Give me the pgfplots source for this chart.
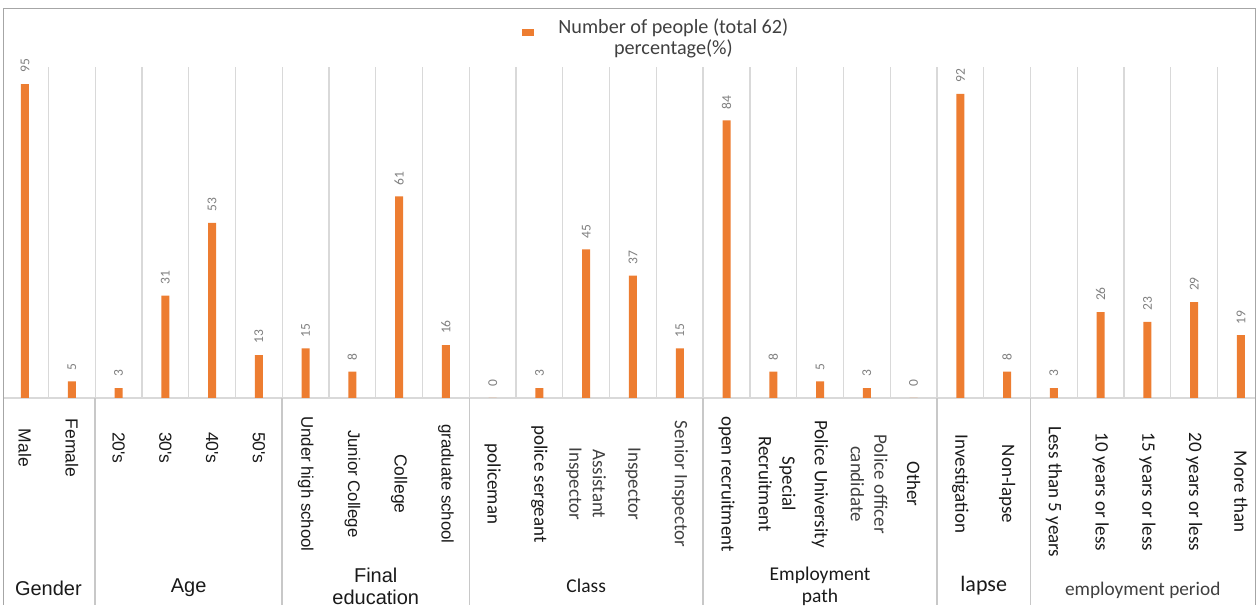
\documentclass[border=0pt]{standalone}
\usepackage{pgfplots}
\pgfplotsset{compat=1.18}
\usepackage{pgfplotstable}
\usepackage{fontspec}
\setmainfont{Carlito}
\newfontfamily\arial{Liberation Sans}
\definecolor{barorange}{HTML}{ED7D31}
\definecolor{gridgray}{HTML}{D9D9D9}
\definecolor{sepgray}{HTML}{C8C8C8}
\definecolor{framegray}{HTML}{A6A6A6}
\definecolor{valgray}{HTML}{7F7F7F}
\definecolor{txtA}{HTML}{1A1A1A}
\definecolor{txtB}{HTML}{404040}
\newcommand\catA{\arial\fontsize{17.5}{21}\selectfont}
\newcommand\catE{\arial\fontsize{16.8}{21}\selectfont}
\newcommand\catB{\fontsize{19}{23.5}\selectfont}
\newcommand\grpA{\arial\fontsize{20}{22}\selectfont}

\pgfplotstableread{
x y
0 95
1 5
2 3
3 31
4 53
5 13
6 15
7 8
8 61
9 16
10 0
11 3
12 45
13 37
14 15
15 84
16 8
17 5
18 3
19 0
20 92
21 8
22 3
23 26
24 23
25 29
26 19
}\datatable

\begin{document}
\begin{tikzpicture}
\begin{axis}[
  scale only axis, width=1251pt, height=596pt,
  xmin=-0.449, xmax=26.3, ymin=-62.63, ymax=117.70,
  hide axis, clip=false,
  /pgf/number format/assume math mode=true,
  ybar, bar width=8pt,
  nodes near coords,
  nodes near coords align={horizontal},
  every node near coord/.append style={font=\fontsize{13.5}{14}\selectfont, text=valgray, rotate=90, anchor=west, inner xsep=11pt, inner ysep=0pt},
  legend style={at={(rel axis cs:0.5215,0.99)}, anchor=north, draw=none, fill=none,
    font=\fontsize{20.2}{21}\selectfont, text=txtB, cells={align=center},
    /tikz/every odd column/.append style={column sep=22pt}},
  legend image code/.code={\fill[barorange] (0pt,2pt) rectangle (12pt,9pt);},
]
% gridlines
\pgfplotsinvokeforeach{0,...,25}{
  \draw[gridgray, line width=1.3pt] (axis cs:{#1+0.5},0) -- (axis cs:{#1+0.5},100);
}
\draw[gridgray, line width=1.5pt] (axis cs:-0.449,0) -- (axis cs:26.3,0);
\pgfplotsinvokeforeach{1.5,5.5,9.5,14.5,19.5,21.5}{
  \draw[sepgray, line width=1.6pt] (axis cs:#1,0) -- (axis cs:#1,-62.63);
}
\draw[framegray, line width=1pt] (rel axis cs:0,0) -- (rel axis cs:0,1) -- (rel axis cs:1,1) -- (rel axis cs:1,0);

\addplot[fill=barorange, draw=none] table[x=x, y=y] {\datatable};
\addlegendentry{Number of people (total 62)\\percentage(\%)}

% category labels
\tikzset{cat/.style={rotate=-90, align=center, inner sep=0pt}}
\node[cat, font=\catA, text=txtA] at (axis cs:0,-15.1) {Male};
\node[cat, font=\catA, text=txtA] at (axis cs:1,-15.1) {Female};
\node[cat, font=\catA, text=txtA] at (axis cs:2,-15.1) {20's};
\node[cat, font=\catA, text=txtA] at (axis cs:3,-15.1) {30's};
\node[cat, font=\catA, text=txtA] at (axis cs:4,-15.1) {40's};
\node[cat, font=\catA, text=txtA] at (axis cs:5,-15.1) {50's};
\node[cat, font=\catE, text=txtA] at (axis cs:6,-26.0) {Under high school};
\node[cat, font=\catE, text=txtA] at (axis cs:7,-26.0) {Junior College};
\node[cat, font=\catA, text=txtA] at (axis cs:8,-26.0) {College};
\node[cat, font=\catE, text=txtA] at (axis cs:9,-26.0) {graduate school};
\node[cat, font=\catB, text=txtA] at (axis cs:10,-26.0) {policeman};
\node[cat, font=\catB, text=txtA] at (axis cs:11,-26.0) {police sergeant};
\node[cat, font=\catB, text=txtB] at (axis cs:12,-26.0) {Assistant\\Inspector};
\node[cat, font=\catB, text=txtB] at (axis cs:13,-26.0) {Inspector};
\node[cat, font=\catB, text=txtB] at (axis cs:14,-26.0) {Senior Inspector};
\node[cat, font=\catB, text=txtA] at (axis cs:15,-26.0) {open recruitment};
\node[cat, font=\catB, text=txtA] at (axis cs:16.08,-26.0) {Special\\Recruitment};
\node[cat, font=\catB, text=txtA] at (axis cs:17,-26.0) {Police University};
\node[cat, font=\catB, text=txtB] at (axis cs:18.05,-26.0) {Police officer\\candidate};
\node[cat, font=\catB, text=txtA] at (axis cs:19,-26.0) {Other};
\node[cat, font=\catB, text=txtA] at (axis cs:20,-26.0) {Investigation};
\node[cat, font=\catB, text=txtA] at (axis cs:21,-26.0) {Non-lapse};
\node[cat, font=\catB, text=txtA] at (axis cs:22,-28.4) {Less than 5 years};
\node[cat, font=\catB, text=txtA] at (axis cs:23,-28.4) {10 years or less};
\node[cat, font=\catB, text=txtA] at (axis cs:24,-28.4) {15 years or less};
\node[cat, font=\catB, text=txtA] at (axis cs:25,-28.4) {20 years or less};
\node[cat, font=\catB, text=txtA] at (axis cs:26,-28.4) {More than};

% group labels
\tikzset{grp/.style={align=center, inner sep=0pt}}
\node[grp, font=\grpA, text=txtA] at (axis cs:0.5,-57.5) {Gender};
\node[grp, font=\grpA, text=txtA] at (axis cs:3.5,-57.5) {Age};
\node[grp, font=\grpA, text=txtA] at (axis cs:7.5,-56.9) {Final\\education};
\node[grp, font=\fontsize{19.5}{22}\selectfont, text=txtA] at (axis cs:12,-56.9) {Class};
\node[grp, font=\fontsize{19.5}{22}\selectfont, text=txtA] at (axis cs:17,-56.9) {Employment\\path};
\node[grp, font=\fontsize{22}{24}\selectfont, text=txtA] at (axis cs:20.5,-56.9) {lapse};
\node[grp, font=\fontsize{19.3}{22}\selectfont, text=txtB] at (axis cs:23.9,-58.3) {employment period};

% bounding box
\path ([xshift=-4pt,yshift=-2pt]rel axis cs:0,0) rectangle ([xshift=2pt,yshift=9pt]rel axis cs:1,1);
\end{axis}
\end{tikzpicture}
\end{document}
